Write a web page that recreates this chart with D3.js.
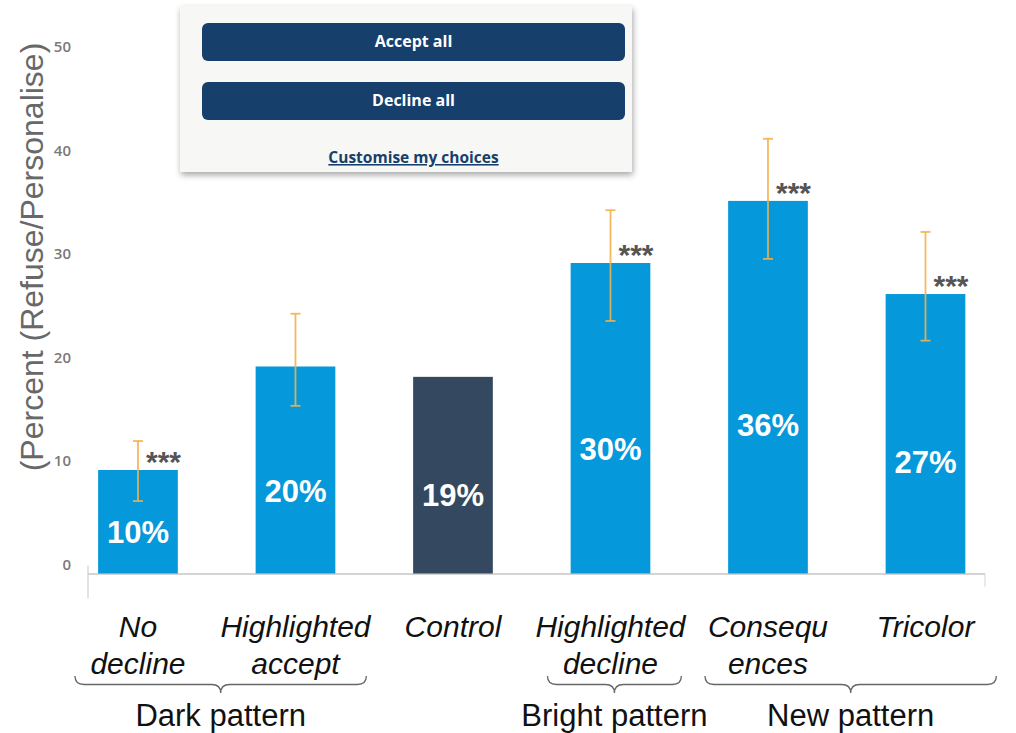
<!DOCTYPE html>
<html>
<head>
<meta charset="utf-8">
<script src="https://cdn.jsdelivr.net/npm/d3@7"></script>
<style>
  html, body { margin: 0; padding: 0; background: #ffffff; }
  svg { display: block; }
</style>
</head>
<body>
<svg id="chart" width="1016" height="733"></svg>
<script>
// Share of users who refused or personalised cookies, by banner design
const categories = ["No\ndecline", "Highlighted\naccept", "Control", "Highlighted\ndecline", "Consequ\nences", "Tricolor"];
const values     = [10, 20, 19, 30, 36, 27];
const errLow     = [7.0, 16.2, null, 24.4, 30.4, 22.5];
const errHigh    = [12.8, 25.1, null, 35.1, 42.0, 33.0];
const significant = [true, false, false, true, true, true];
const isControl   = [false, false, true, false, false, false];
const yTicks      = [0, 10, 20, 30, 40, 50];

// Pattern groups spanning the categories (first and last index)
const groupNames = ["Dark pattern", "Bright pattern", "New pattern"];
const groupFirst = [0, 3, 4];
const groupLast  = [1, 3, 5];

const svg = d3.select("#chart");

const x = d3.scaleBand()
  .domain(categories)
  .range([88, 985])
  .paddingInner(0.494)
  .paddingOuter(0.0946)
  .align(0.34);

const y = d3.scaleLinear().domain([0, 50]).range([573.5, 56]);

const cx = i => x(categories[i]) + x.bandwidth() / 2;

// Y axis tick labels
const yAxis = d3.axisLeft(y).tickValues(yTicks).tickSize(0).tickPadding(0);
const yg = svg.append("g")
  .attr("transform", "translate(71,-9)")
  .call(yAxis);
yg.select(".domain").remove();
yg.selectAll("text")
  .attr("font-family", "'Open Sans', sans-serif")
  .attr("font-weight", 600)
  .attr("font-size", 15)
  .attr("fill", "#7a7a7a");

// Y axis title
svg.append("text")
  .attr("transform", "translate(43,257) rotate(-90)")
  .attr("text-anchor", "middle")
  .attr("font-family", "'Liberation Sans', Arial, sans-serif")
  .attr("font-size", 32)
  .attr("fill", "#686868")
  .text("(Percent (Refuse/Personalise)");

// Baseline and end marks
svg.append("line")
  .attr("x1", x.range()[0]).attr("x2", x.range()[1])
  .attr("y1", y(0) + 0.5).attr("y2", y(0) + 0.5)
  .attr("stroke", "#c6c6c6").attr("stroke-width", 1.5);
svg.append("line")
  .attr("x1", x.range()[0]).attr("x2", x.range()[0])
  .attr("y1", y(0) - 8).attr("y2", y(0) + 25)
  .attr("stroke", "#d0d0d0").attr("stroke-width", 1.2);
svg.append("line")
  .attr("x1", x.range()[1]).attr("x2", x.range()[1])
  .attr("y1", y(0)).attr("y2", y(0) + 13)
  .attr("stroke", "#dadada").attr("stroke-width", 1.2);

// Bars
svg.append("g").selectAll("rect")
  .data(values)
  .join("rect")
  .attr("x", (d, i) => x(categories[i]))
  .attr("width", x.bandwidth())
  .attr("y", d => y(d))
  .attr("height", d => y(0) - y(d))
  .attr("fill", (d, i) => isControl[i] ? "#34495f" : "#0598da");

// Value labels inside bars
svg.append("g").selectAll("text")
  .data(values)
  .join("text")
  .attr("x", (d, i) => cx(i))
  .attr("y", d => y(d * 0.4))
  .attr("dy", "0.36em")
  .attr("text-anchor", "middle")
  .attr("font-family", "'Liberation Sans', Arial, sans-serif")
  .attr("font-weight", "bold")
  .attr("font-size", 31)
  .attr("fill", "#ffffff")
  .text(d => d + "%");

// Error bars
const eg = svg.append("g")
  .attr("stroke", "#f4b04a")
  .attr("stroke-opacity", 0.9)
  .attr("stroke-width", 1.8);
values.forEach((v, i) => {
  if (errLow[i] == null) return;
  const c = cx(i);
  eg.append("line").attr("x1", c).attr("x2", c).attr("y1", y(errHigh[i])).attr("y2", y(errLow[i]));
  eg.append("line").attr("x1", c - 5).attr("x2", c + 5).attr("y1", y(errHigh[i])).attr("y2", y(errHigh[i]));
  eg.append("line").attr("x1", c - 5).attr("x2", c + 5).attr("y1", y(errLow[i])).attr("y2", y(errLow[i]));
});

// Significance stars
svg.append("g").selectAll("text")
  .data(values.map((v, i) => ({ v, i })).filter(d => significant[d.i]))
  .join("text")
  .attr("x", d => cx(d.i) + 8)
  .attr("y", d => y(d.v) + 2)
  .attr("font-family", "'Liberation Sans', Arial, sans-serif")
  .attr("font-weight", "bold")
  .attr("font-size", 30)
  .attr("fill", "#555555")
  .text("***");

// Category labels
const cl = svg.append("g")
  .attr("font-family", "'Liberation Sans', Arial, sans-serif")
  .attr("font-style", "italic")
  .attr("font-size", 30)
  .attr("fill", "#111111")
  .attr("text-anchor", "middle");
categories.forEach((c, i) => {
  const t = cl.append("text").attr("x", cx(i)).attr("y", 637);
  c.split("\n").forEach((line, k) => {
    t.append("tspan").attr("x", cx(i)).attr("dy", k === 0 ? 0 : 37).text(line);
  });
});

// Group braces and names
function bracePath(x1, x2, yTop, h) {
  const mid = (x1 + x2) / 2, r = 9, ym = yTop + h / 2;
  return `M${x1},${yTop} Q${x1},${ym} ${x1 + r},${ym} L${mid - r},${ym} Q${mid},${ym} ${mid},${yTop + h}` +
         ` Q${mid},${ym} ${mid + r},${ym} L${x2 - r},${ym} Q${x2},${ym} ${x2},${yTop}`;
}
const step = x.step();
groupNames.forEach((name, g) => {
  const x1 = cx(groupFirst[g]) - 0.4 * step;
  const x2 = cx(groupLast[g]) + 0.45 * step;
  svg.append("path")
    .attr("d", bracePath(x1, x2, 676, 17))
    .attr("fill", "none")
    .attr("stroke", "#666666")
    .attr("stroke-width", 1.3);
  svg.append("text")
    .attr("x", (x1 + x2) / 2)
    .attr("y", 726)
    .attr("text-anchor", "middle")
    .attr("font-family", "'Liberation Sans', Arial, sans-serif")
    .attr("font-size", 31)
    .attr("fill", "#111111")
    .text(name);
});

// Consent banner panel
const defs = svg.append("defs");
const f = defs.append("filter").attr("id", "panelShadow")
  .attr("x", "-10%").attr("y", "-10%").attr("width", "120%").attr("height", "130%");
f.append("feDropShadow").attr("dx", 1).attr("dy", 3).attr("stdDeviation", 3)
  .attr("flood-color", "#000").attr("flood-opacity", 0.35);

const panel = svg.append("g");
panel.append("rect")
  .attr("x", 180).attr("y", 6).attr("width", 452).attr("height", 166)
  .attr("fill", "#f7f7f5")
  .attr("filter", "url(#panelShadow)");

const buttons = ["Accept all", "Decline all"];
buttons.forEach((label, k) => {
  const top = 23 + k * 59;
  panel.append("rect")
    .attr("x", 202).attr("y", top).attr("width", 423).attr("height", 38)
    .attr("rx", 6)
    .attr("fill", "#163f6c");
  panel.append("text")
    .attr("x", 413.5).attr("y", top + 18).attr("dy", "0.36em")
    .attr("text-anchor", "middle")
    .attr("font-family", "'Open Sans', sans-serif")
    .attr("font-weight", 700)
    .attr("font-size", 16)
    .attr("fill", "#ffffff")
    .text(label);
});
panel.append("text")
  .attr("x", 413.5).attr("y", 163)
  .attr("text-anchor", "middle")
  .attr("font-family", "'Open Sans', sans-serif")
  .attr("font-weight", 700)
  .attr("font-size", 15.5)
  .attr("fill", "#163f6c")
  .attr("text-decoration", "underline")
  .text("Customise my choices");
</script>
</body>
</html>
